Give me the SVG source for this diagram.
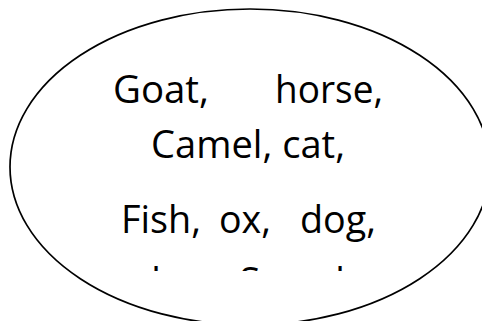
<svg xmlns="http://www.w3.org/2000/svg" width="482" height="321" viewBox="0 0 482 321">
  <style>
    .shape { fill: #ffffff; stroke: #000000; stroke-width: 1.7; }
    .lbl { font-family: "Open Sans", "Noto Sans", sans-serif; font-size: 38px; fill: #000000; }
  </style>
  <defs>
    <clipPath id="cutoff">
      <rect x="0" y="0" width="482" height="271"/>
    </clipPath>
  </defs>
  <rect x="0" y="0" width="482" height="321" fill="#ffffff"/>
  <g id="connectors"/>
  <g id="animals">
    <ellipse class="shape" cx="250" cy="167" rx="240" ry="158"/>
    <text class="lbl" x="113" y="103" textLength="96" lengthAdjust="spacingAndGlyphs">Goat,</text>
    <text class="lbl" x="275" y="103" textLength="108" lengthAdjust="spacingAndGlyphs">horse,</text>
    <text class="lbl" x="151" y="158" textLength="194" lengthAdjust="spacingAndGlyphs">Camel, cat,</text>
    <text class="lbl" x="121" y="233" textLength="80" lengthAdjust="spacingAndGlyphs">Fish,</text>
    <text class="lbl" x="219" y="233" textLength="52" lengthAdjust="spacingAndGlyphs">ox,</text>
    <text class="lbl" x="300" y="233" textLength="76" lengthAdjust="spacingAndGlyphs">dog,</text>
    <g clip-path="url(#cutoff)">
      <text class="lbl" y="295" text-anchor="middle"><tspan x="156">l</tspan><tspan x="250">S</tspan><tspan x="340">l</tspan></text>
    </g>
  </g>
</svg>
